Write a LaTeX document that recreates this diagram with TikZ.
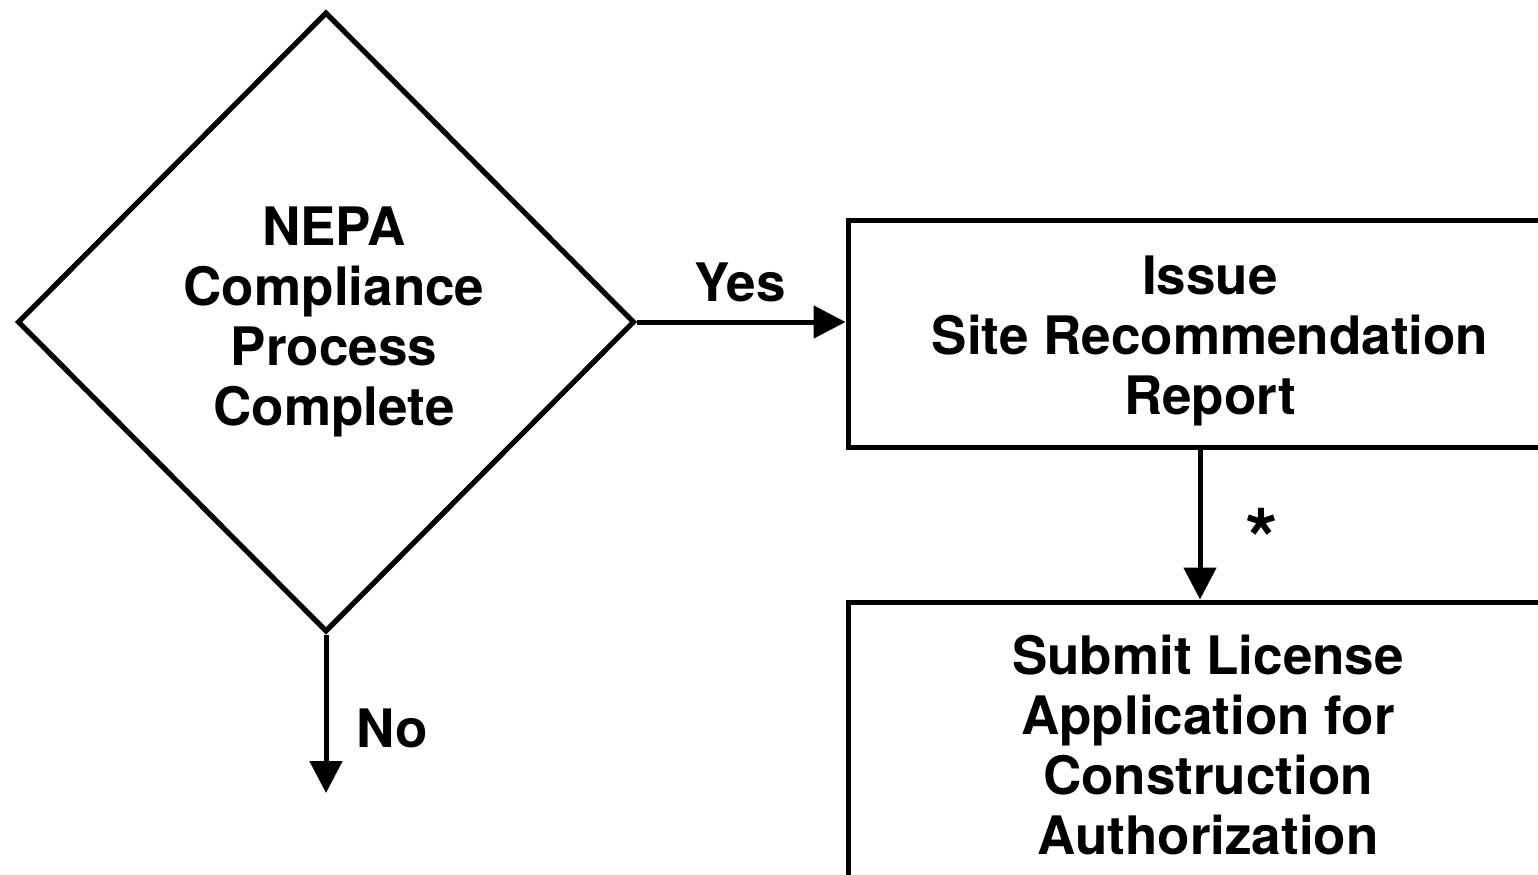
\documentclass[tikz,border=0pt]{standalone}
\usepackage{fontspec}
\setmainfont{TeX Gyre Heros}
\usetikzlibrary{shapes.geometric,arrows.meta}
\begin{document}
\begin{tikzpicture}[x=0.5pt,y=-0.5pt,
  every node/.style={font=\fontsize{26.5pt}{30pt}\selectfont\bfseries},
  boxnode/.style={draw,line width=2.5pt,rectangle,inner sep=0pt,align=center},
  decision/.style={draw,line width=2.6pt,diamond,inner sep=0pt,align=center},
  txt/.style={inner sep=0pt,align=center},
  conn/.style={line width=2.5pt,-{Triangle[length=16pt,width=16pt]}},
  lbl/.style={inner sep=0pt,anchor=base}]
\clip (0,0) rectangle (1538,874);
\node[decision,minimum width=308.5pt,minimum height=310pt] (d) at (326,322) {};
\node[txt] (dt) at (334,322) {NEPA\\Compliance\\Process\\Complete};
\node[boxnode,minimum width=362pt,minimum height=113.5pt] (b1) at (1210,333.5) {};
\node[txt] (b1t) at (1210,341) {Issue\\Site Recommendation\\Report};
\node[boxnode,minimum width=360pt,minimum height=143pt] (b2) at (1208,745) {Submit License\\Application for\\Construction\\Authorization};
\coordinate (noend) at (326,793);
\coordinate (ax) at (1200,0);
\draw[conn] (d.east) -- (d.east -| b1.west);
\draw[conn] (d.south) -- (noend);
\draw[conn] (b1.south -| ax) -- (b2.north -| ax);
\node[lbl] (yes) at (740,301) {Yes};
\node[lbl] (no) at (392,747) {No};
\node[lbl,font=\fontsize{42pt}{42pt}\selectfont\bfseries] (star) at (1262,569) {*};
\end{tikzpicture}
\end{document}
